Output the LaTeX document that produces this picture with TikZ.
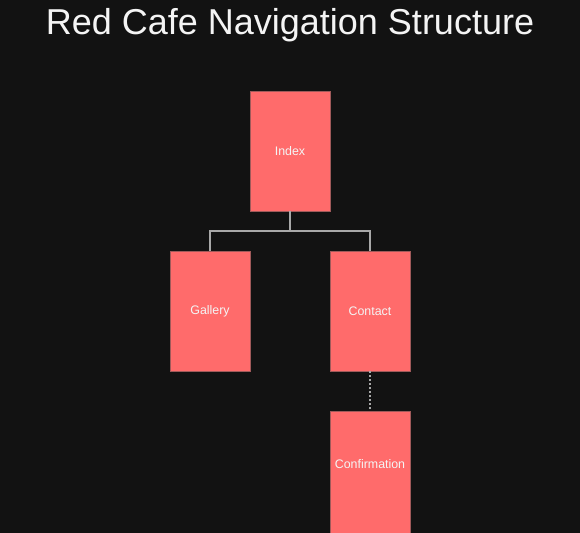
\documentclass[tikz,border=0pt]{standalone}
\usepackage{fontspec}
\setmainfont{Liberation Sans}
\definecolor{bg}{HTML}{121212}
\definecolor{boxfill}{HTML}{FF6B6B}
\definecolor{boxline}{HTML}{A05A5A}
\definecolor{conn}{HTML}{A8A8A8}
\definecolor{txt}{HTML}{F4F4F4}
\begin{document}
\begin{tikzpicture}[x=1pt,y=-1pt,
  page/.style={draw=boxline,line width=0.6pt,fill=boxfill,minimum width=80pt,minimum height=120pt,inner sep=0pt,text=txt,font=\fontsize{12.4}{14}\selectfont},
  link/.style={draw=conn,line width=1.1pt},
  dotlink/.style={draw=conn,line width=1.1pt,dash pattern=on 2pt off 2pt}]
\useasboundingbox (0,0) rectangle (580,532);
\fill[bg] (-2,-2) rectangle (582,534);
\node[text=txt,font=\fontsize{36}{40}\selectfont,anchor=base] (title) at (290,35) {Red Cafe Navigation Structure};
\node[page] (index) at (290,151) {Index};
\node[page] (gallery) at (210,311) {Gallery};
\node[page] (contact) at (370,311) {Contact};
\node[page,minimum height=124pt] (confirm) at (370,473) {};
\node[text=txt,font=\fontsize{12.4}{14}\selectfont] (conftext) at (370,464) {Confirmation};
\coordinate (mid) at (290,231);
\draw[link] (index.south) -- (mid) -| (gallery.north);
\draw[link] (mid) -| (contact.north);
\draw[dotlink] (contact.south) -- (confirm.north);
\end{tikzpicture}
\end{document}
